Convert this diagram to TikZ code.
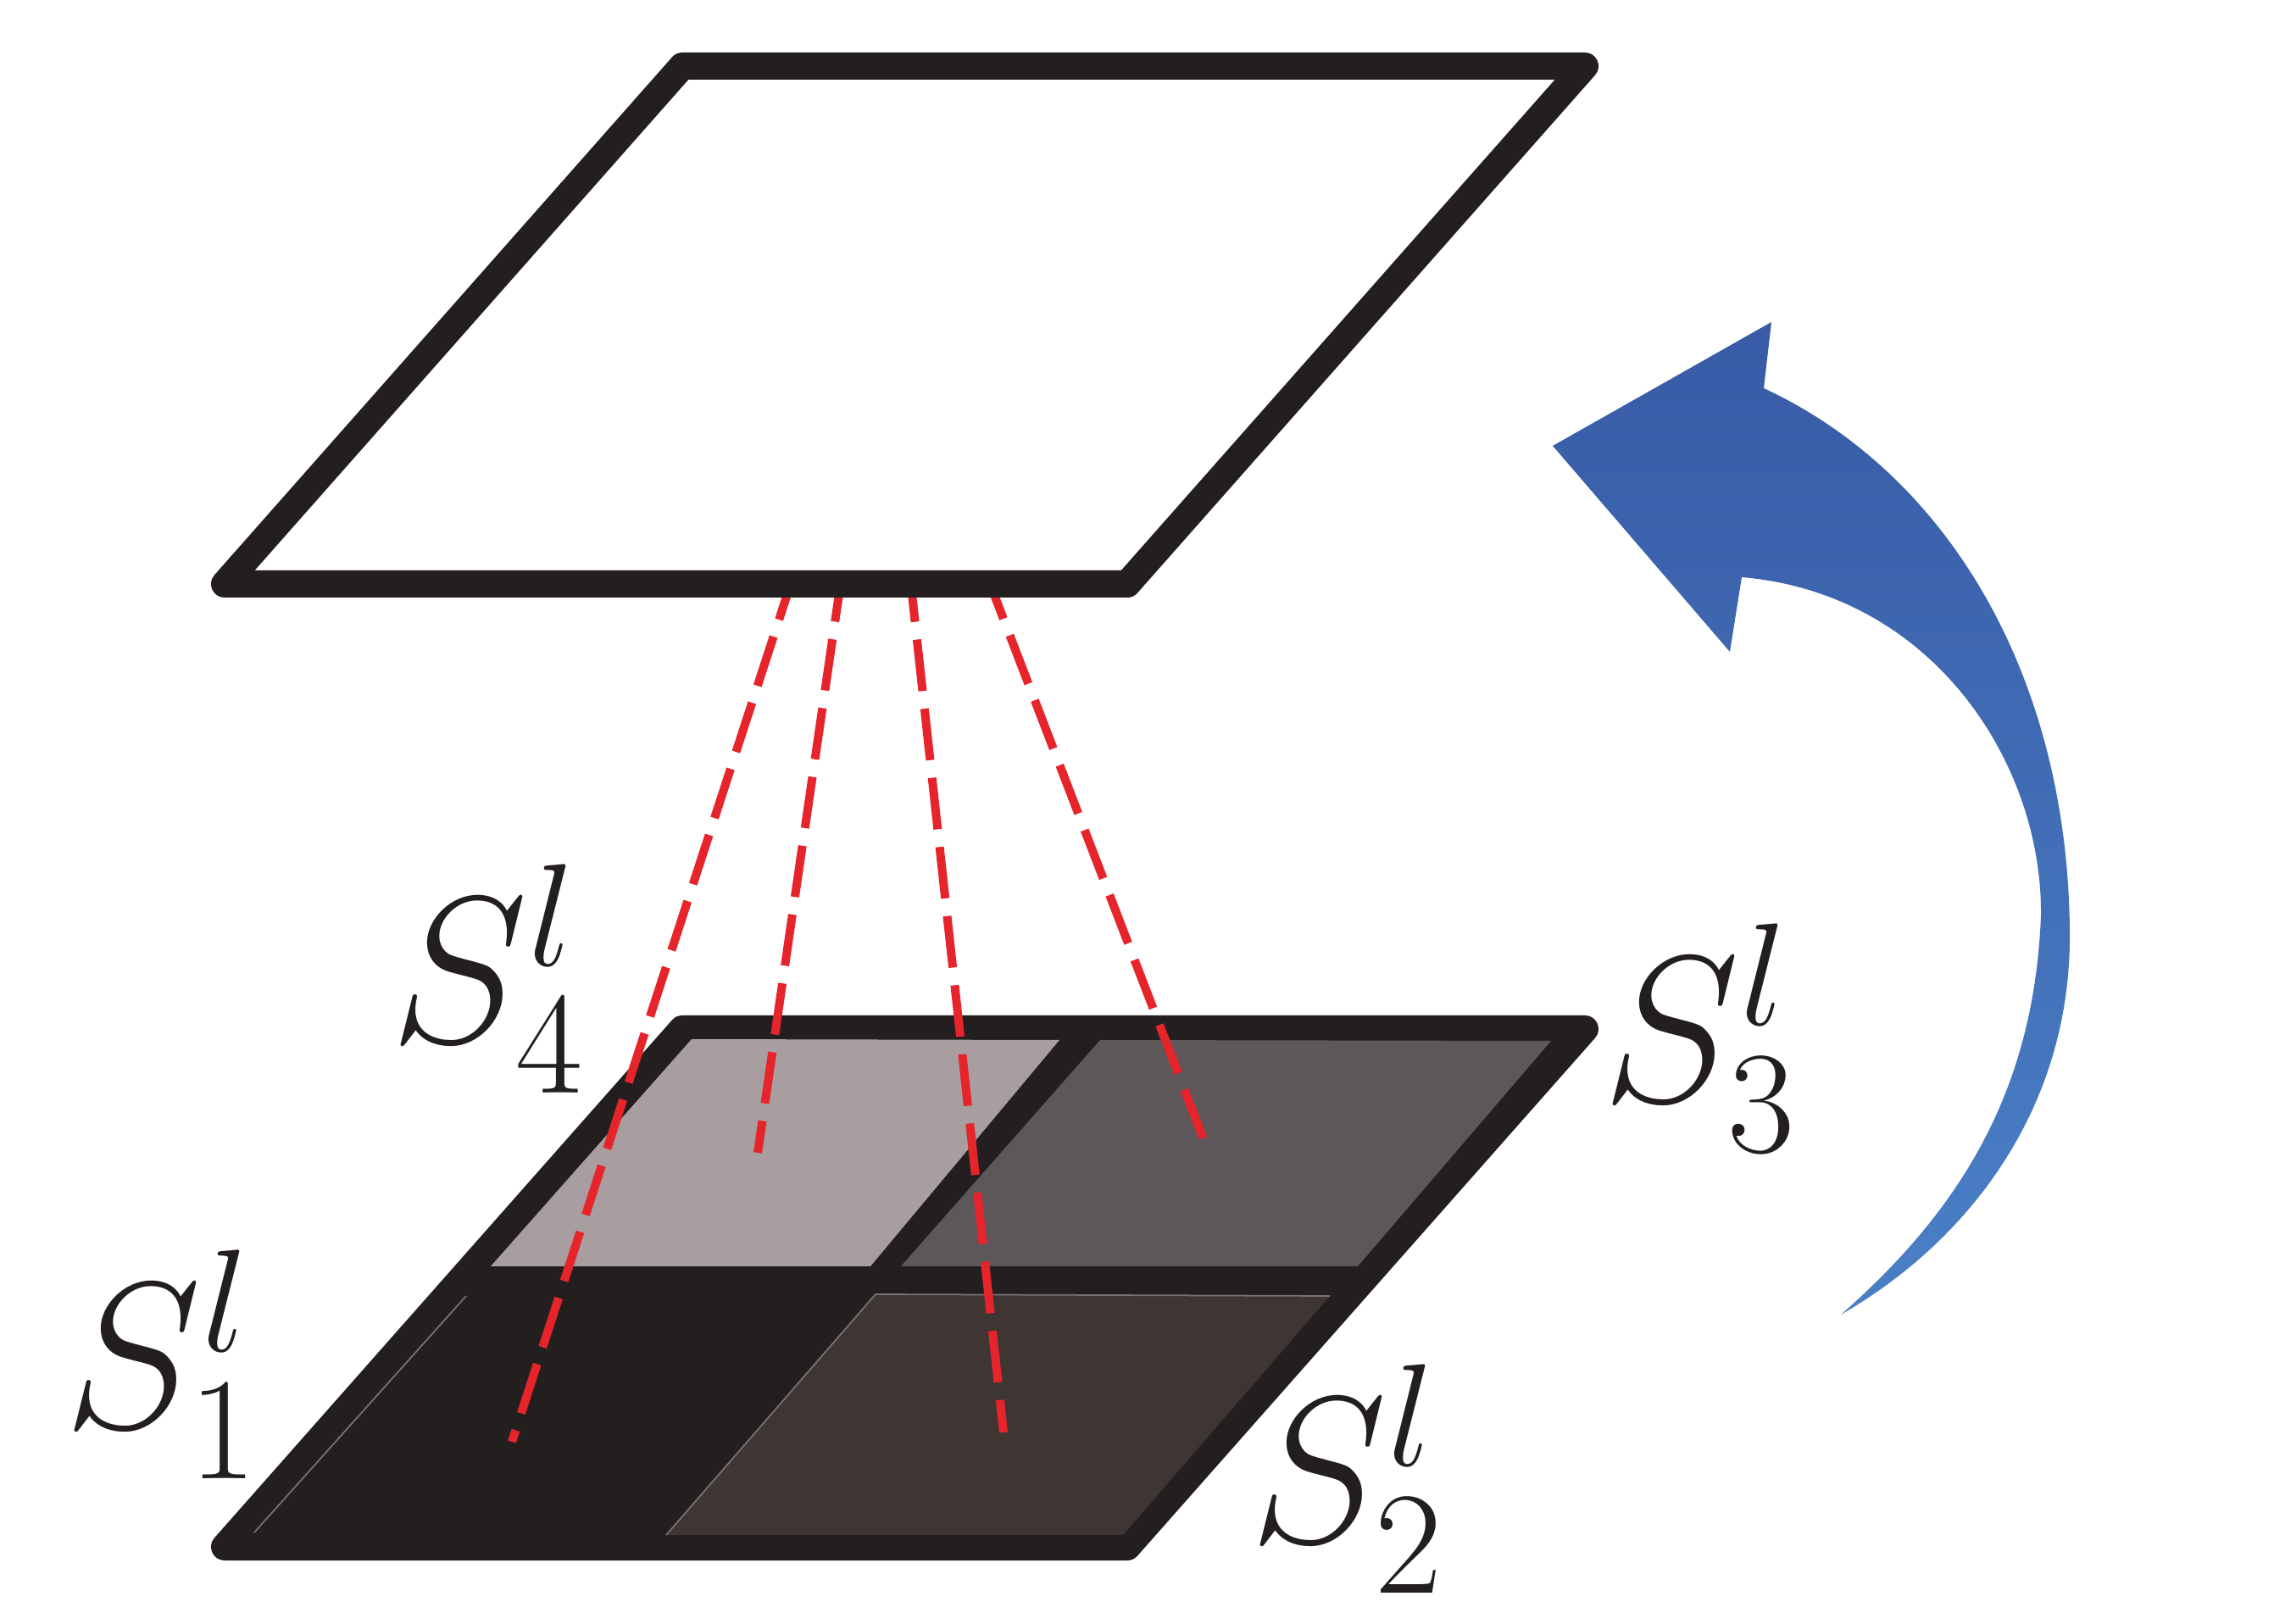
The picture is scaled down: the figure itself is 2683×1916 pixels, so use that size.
\RequirePackage{fix-cm}
\documentclass[tikz,border=0pt]{standalone}
\usepackage{tikz}
\definecolor{plateblack}{RGB}{35,31,32}
\definecolor{celllight}{RGB}{168,158,160}
\definecolor{cellgray}{RGB}{94,87,89}
\definecolor{celldark}{RGB}{36,31,31}
\definecolor{cellbrown}{RGB}{63,54,52}
\definecolor{celledge}{RGB}{120,114,112}
\definecolor{projred}{RGB}{230,36,43}
\definecolor{arrowblue}{RGB}{56,91,166}
\definecolor{arrowlight}{RGB}{74,128,198}
\begin{document}
\begin{tikzpicture}[
  x=0.01cm,y=-0.01cm,
  plate/.style={draw=plateblack,line width=0.32cm,line join=round},
  edge/.style={draw=celledge,line width=0.5pt},
  proj/.style={draw=projred,line width=0.1cm,dash pattern=on 0.61cm off 0.21cm},
  lab/.style={font=\fontsize{70}{80}\selectfont,text=plateblack,inner sep=0pt}
]
\useasboundingbox (0,0) rectangle (2683,1916);

% lower plate, split in four
\draw[plate,fill=plateblack] (805,1214) -- (1870,1214) -- (1330,1825) -- (265,1825) -- cycle;
\fill[celllight] (816,1226) -- (1250,1227) -- (1027,1494) -- (579,1494) -- cycle;
\fill[cellgray] (1298,1227) -- (1830,1228) -- (1602,1494) -- (1063,1494) -- cycle;
\fill[celldark] (550,1529) -- (989,1529) -- (740,1811) -- (300,1808) -- cycle;
\fill[cellbrown] (1033,1527) -- (1569,1529) -- (1325,1811) -- (786,1811) -- cycle;
\draw[edge] (550,1529) -- (300,1808);
\draw[edge] (1569,1529) -- (1033,1527) -- (786,1811);

% projection lines
\coordinate (p1) at (938,673);
\coordinate (p2) at (994,673);
\coordinate (p3) at (1073,673);
\coordinate (p4) at (1162,673);
\coordinate (q1) at (604,1701);
\coordinate (q2) at (894,1360);
\coordinate (q3) at (1184,1690);
\coordinate (q4) at (1426,1360);
\draw[proj] (p1) -- (q1);
\draw[proj] (p2) -- (q2);
\draw[proj] (p3) -- (q3);
\draw[proj] (p4) -- (q4);

% upper plate
\draw[plate,fill=white] (805,78) -- (1870,78) -- (1330,689) -- (265,689) -- cycle;

% curved arrow
\shade[top color=arrowblue,bottom color=arrowlight]
  (1832,526) -- (2090,380) -- (2081,458)
  .. controls (2300,560) and (2440,800) .. (2442,1100)
  .. controls (2444,1300) and (2330,1460) .. (2172,1551)
  .. controls (2310,1430) and (2400,1290) .. (2408,1080)
  .. controls (2410,900) and (2280,700) .. (2055,681)
  -- (2041,769) -- cycle;

\node[lab] (s4) at (575,1155) {$S_4^l$};
\node[lab] (s3) at (2005,1225) {$S_3^l$};
\node[lab] (s1) at (190,1610) {$S_1^l$};
\node[lab] (s2) at (1589,1745) {$S_2^l$};
\end{tikzpicture}
\end{document}
